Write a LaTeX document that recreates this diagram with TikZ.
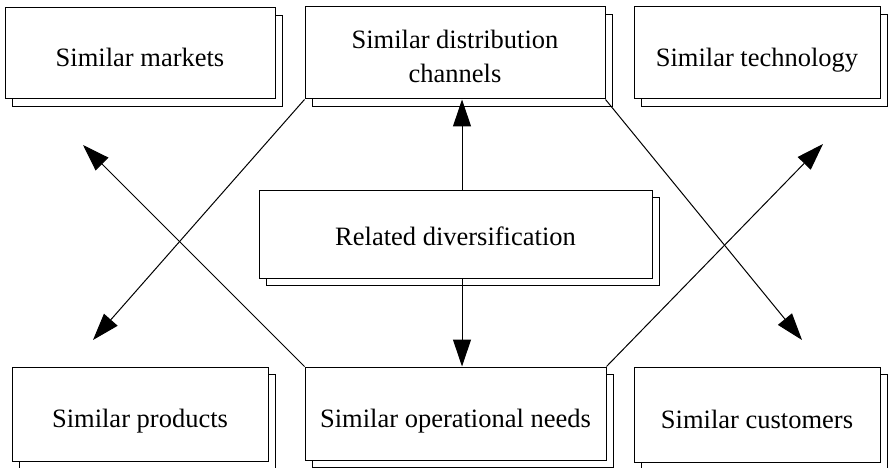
\documentclass[tikz,border=0pt]{standalone}
\usepackage{fontspec}
\setmainfont{Liberation Serif}
\usetikzlibrary{arrows.meta,shadows}
\begin{document}
\begin{tikzpicture}[x=1pt,y=-1pt,
  card/.style={draw=black, fill=white, line width=1pt, inner sep=0pt,
    align=center, font=\fontsize{26.5}{34}\selectfont,
    text height=27pt, text depth=0pt,
    general shadow={shadow xshift=7.5pt, shadow yshift=-7.5pt,
      draw=black, fill=white, line width=1pt}},
  link/.style={line width=1pt, -{Triangle[length=27pt,width=18pt]}}]
\useasboundingbox (0,0) rectangle (888,468);

% top row
\node[card, minimum width=270pt, minimum height=91pt] (markets) at (140,53.5) {Similar markets};
\node[card, minimum width=300pt, minimum height=92pt, text height=60pt, text depth=0pt]
  (distribution) at (455,53) {Similar distribution\\channels};
\node[card, minimum width=246pt, minimum height=92pt] (technology) at (757,53) {Similar technology};

% centre
\node[card, minimum width=393pt, minimum height=88pt, text height=22pt] (related) at (455.5,234) {Related diversification};

% bottom row
\node[card, minimum width=256pt, minimum height=94pt] (products) at (140,414) {Similar products};
\node[card, minimum width=301pt, minimum height=93pt] (operational) at (455.5,413.5) {Similar operational needs};
\node[card, minimum width=246pt, minimum height=95pt] (customers) at (757,414.5) {Similar customers};

% free ends of the diagonal arrows
\coordinate (vx) at (462,0);
\coordinate (tipBL) at (93,340);
\coordinate (tipBR) at (802,340);
\coordinate (tipTL) at (83,145);
\coordinate (tipTR) at (823,144);

% vertical arrows
\draw[link] (related.north -| vx) -- (distribution.south -| vx);
\draw[link] (related.south -| vx) -- (operational.north -| vx);

% diagonal arrows
\draw[link] (distribution.south west) -- (tipBL);
\draw[link] (distribution.south east) -- (tipBR);
\draw[link] (operational.north west) -- (tipTL);
\draw[link] (operational.north east) -- (tipTR);
\end{tikzpicture}
\end{document}
